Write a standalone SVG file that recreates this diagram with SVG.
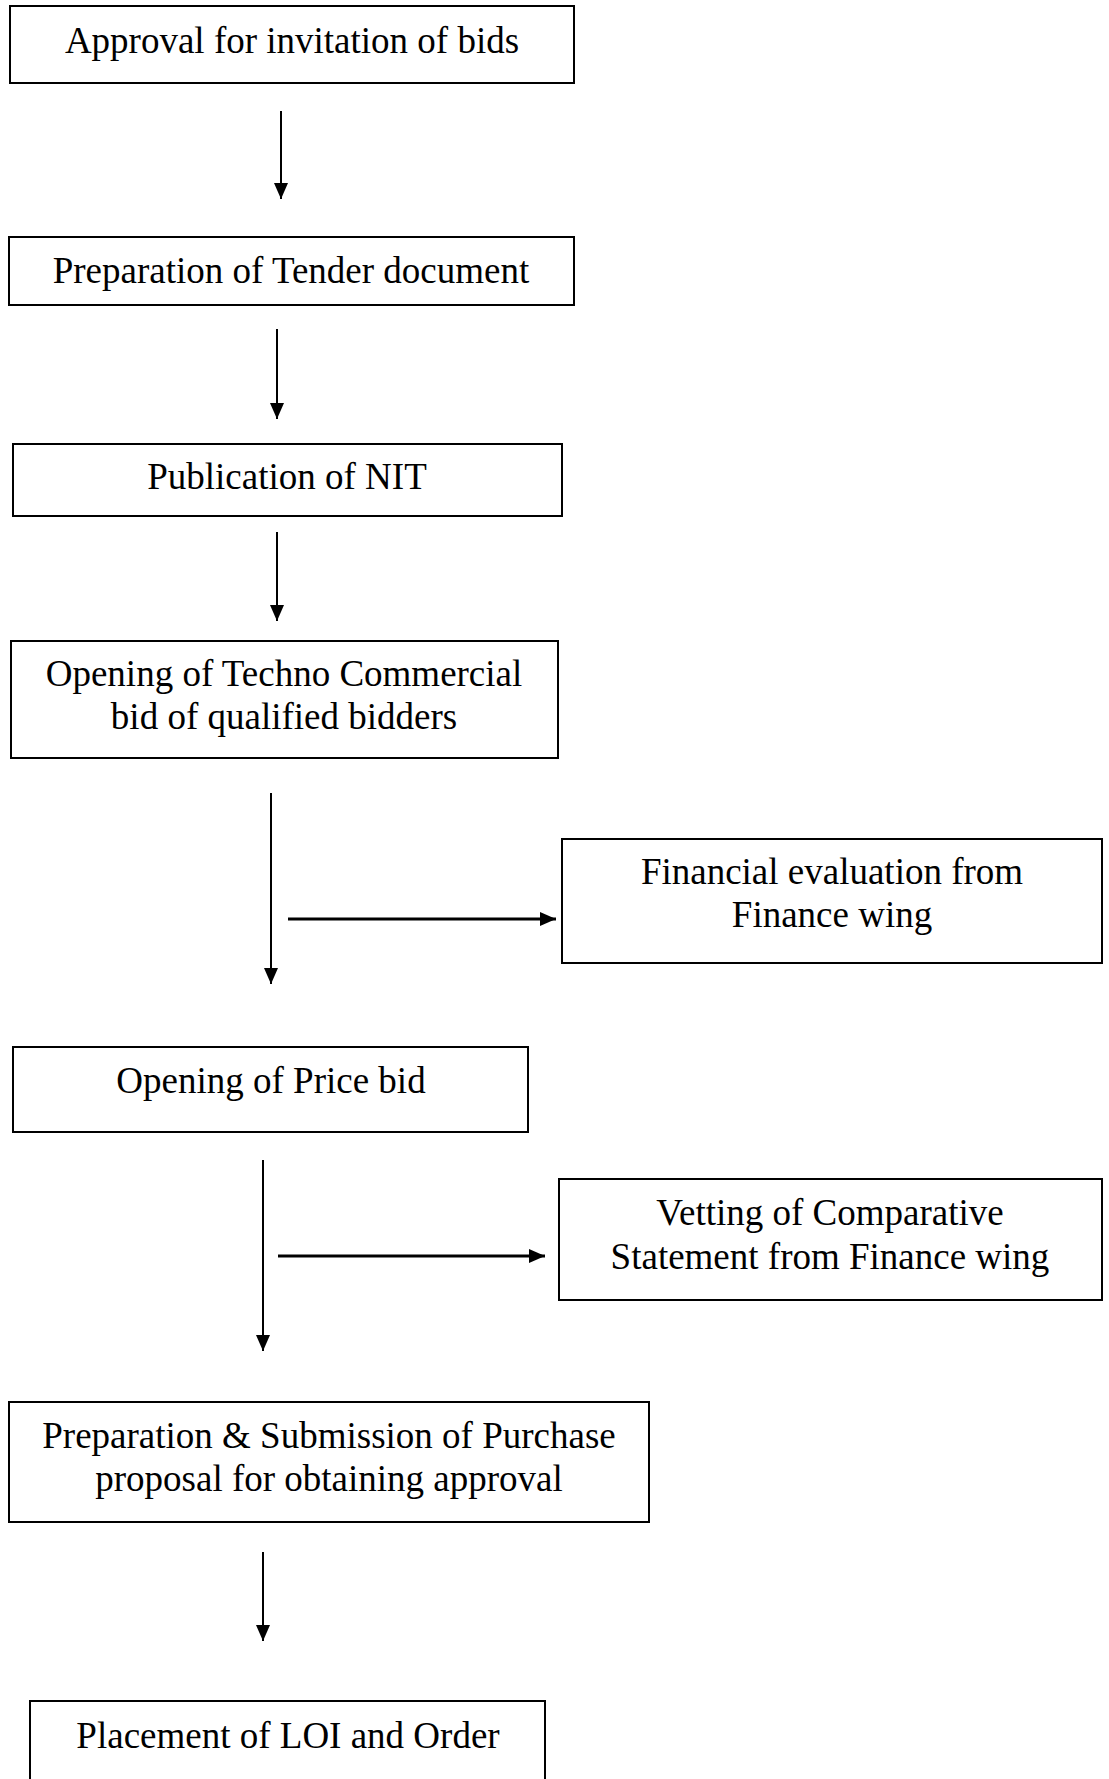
<svg xmlns="http://www.w3.org/2000/svg" width="1109" height="1779" viewBox="0 0 1109 1779">
<style>
.box{fill:#fff;stroke:#000;stroke-width:2}
.t{font-family:"Liberation Serif","Times New Roman",serif;font-size:37px;fill:#000;text-anchor:middle}
.c{stroke:#000;stroke-width:2;fill:none}
.h{stroke:#000;stroke-width:3;fill:none}
</style>
<defs>
<marker id="ah" viewBox="0 0 16 14" refX="16" refY="7" markerWidth="16" markerHeight="14" markerUnits="userSpaceOnUse" orient="auto"><path d="M0,0 L16,7 L0,14 Z" fill="#000"/></marker>
</defs>
<rect width="1109" height="1779" fill="#fff"/>
<g id="n1"><rect class="box" x="10" y="6" width="564" height="77"/><text class="t" x="292" y="53">Approval for invitation of bids</text></g>
<g id="n2"><rect class="box" x="9" y="237" width="565" height="68"/><text class="t" x="291" y="283">Preparation of Tender document</text></g>
<g id="n3"><rect class="box" x="13" y="444" width="549" height="72"/><text class="t" x="287" y="489">Publication of NIT</text></g>
<g id="n4"><rect class="box" x="11" y="641" width="547" height="117"/><text class="t" x="284" y="686">Opening of Techno Commercial</text><text class="t" x="284" y="729">bid of qualified bidders</text></g>
<g id="n5"><rect class="box" x="562" y="839" width="540" height="124"/><text class="t" x="832" y="884">Financial evaluation from</text><text class="t" x="832" y="927">Finance wing</text></g>
<g id="n6"><rect class="box" x="13" y="1047" width="515" height="85"/><text class="t" x="271" y="1093">Opening of Price bid</text></g>
<g id="n7"><rect class="box" x="559" y="1179" width="543" height="121"/><text class="t" x="830" y="1225">Vetting of Comparative</text><text class="t" x="830" y="1269">Statement from Finance wing</text></g>
<g id="n8"><rect class="box" x="9" y="1402" width="640" height="120"/><text class="t" x="329" y="1448">Preparation &amp; Submission of Purchase</text><text class="t" x="329" y="1491">proposal for obtaining approval</text></g>
<g id="n9"><rect class="box" x="30" y="1701" width="515" height="100"/><text class="t" x="288" y="1748">Placement of LOI and Order</text></g>
<g id="connectors">
<line class="c" x1="281" y1="111" x2="281" y2="199" marker-end="url(#ah)"/>
<line class="c" x1="277" y1="329" x2="277" y2="419" marker-end="url(#ah)"/>
<line class="c" x1="277" y1="532" x2="277" y2="621" marker-end="url(#ah)"/>
<line class="c" x1="271" y1="793" x2="271" y2="984" marker-end="url(#ah)"/>
<line class="h" x1="288" y1="919" x2="556" y2="919" marker-end="url(#ah)"/>
<line class="c" x1="263" y1="1160" x2="263" y2="1351" marker-end="url(#ah)"/>
<line class="h" x1="278" y1="1256" x2="545" y2="1256" marker-end="url(#ah)"/>
<line class="c" x1="263" y1="1552" x2="263" y2="1641" marker-end="url(#ah)"/>
</g>
</svg>
